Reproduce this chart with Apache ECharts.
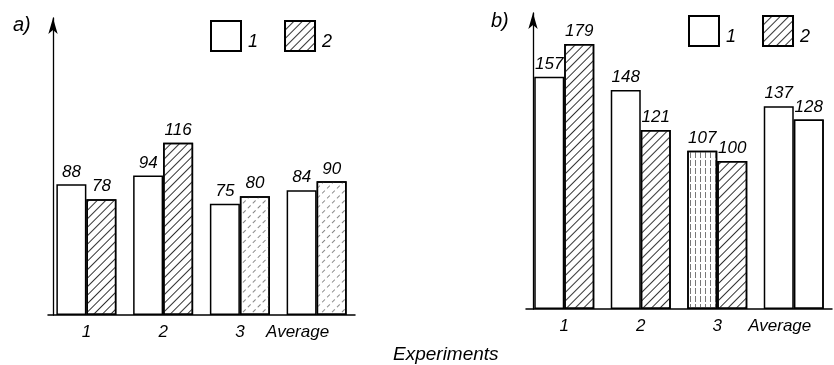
<!DOCTYPE html>
<html>
<head>
<meta charset="utf-8">
<script src="https://cdn.jsdelivr.net/npm/echarts@6/dist/echarts.min.js"></script>
<style>html,body{margin:0;padding:0;background:#fff;}#c{width:834px;height:365px;}</style>
</head>
<body>
<div id="c"></div>
<script>
// ---- data ----
const categories = ['1', '2', '3', 'Average'];
const seriesNames = ['1', '2'];
const panelA_series1 = [88, 94, 75, 84];
const panelA_series2 = [78, 116, 80, 90];
const panelB_series1 = [157, 148, 107, 137];
const panelB_series2 = [179, 121, 100, 128];
const panelLabels = ['a)', 'b)'];
const xAxisTitle = 'Experiments';

// ---- styles ----
const FONT = 'Liberation Sans';
const hatch = { symbol: 'rect', symbolSize: 1, color: '#333', dashArrayX: [1, 0], dashArrayY: [1, 5], rotation: -Math.PI / 4 };
const lightHatch = { symbol: 'rect', symbolSize: 1, color: '#888', dashArrayX: [[4, 3]], dashArrayY: [1, 6], rotation: -Math.PI / 4 };
const vertLines = { symbol: 'rect', symbolSize: 1, color: '#777', dashArrayX: [1, 4], dashArrayY: [6, 2] };
const none = { symbol: 'none' };

// decal per bar (style only, indexes align with categories)
const decalA1 = [null, null, null, null];
const decalA2 = [hatch, hatch, lightHatch, lightHatch];
const decalB1 = [null, null, vertLines, null];
const decalB2 = [hatch, hatch, hatch, none];

function items(values, decals) {
  return values.map((v, i) => decals[i] ? { value: v, itemStyle: { decal: decals[i] } } : v);
}

function barSeries(name, values, decals, axisIndex, seriesDecal) {
  return {
    type: 'bar', name: name,
    xAxisIndex: axisIndex, yAxisIndex: axisIndex,
    barWidth: 30, barGap: '0%',
    itemStyle: Object.assign({ color: '#fff', borderColor: '#000', borderWidth: 1.5 }, seriesDecal ? { decal: seriesDecal } : {}),
    label: { show: true, position: 'top', distance: 4, color: '#000', fontFamily: FONT, fontStyle: 'italic', fontSize: 17 },
    emphasis: { disabled: true },
    animation: false,
    data: items(values, decals)
  };
}

const yAxisCommon = {
  type: 'value', min: 0, max: 200,
  axisLine: { show: true, symbol: ['none', 'arrow'], symbolSize: [7, 16], lineStyle: { color: '#000', width: 1.3 } },
  axisTick: { show: false }, axisLabel: { show: false }, splitLine: { show: false }
};
function xAxisCommon(grid, avgPad) {
  return {
    type: 'category', gridIndex: grid, data: categories,
    axisLine: { lineStyle: { color: '#000', width: 1.5 } },
    axisTick: { show: false },
    axisLabel: {
      interval: 0,
      color: '#000', fontFamily: FONT, fontStyle: 'italic', fontSize: 17, margin: 9,
      formatter: v => v === 'Average' ? '{avg|' + v + '}' : v,
      rich: { avg: { padding: [0, avgPad, 0, 0], fontFamily: FONT, fontStyle: 'italic', fontSize: 17, color: '#000' } }
    }
  };
}

const legendText = {
  fontFamily: FONT, fontStyle: 'italic', fontSize: 18, color: '#000',
  rich: { t: { fontFamily: FONT, fontStyle: 'italic', fontSize: 18, color: '#000', padding: [12, 0, 0, 2] } }
};

const chart = echarts.init(document.getElementById('c'), null, { renderer: 'canvas' });
chart.setOption({
  backgroundColor: '#fff',
  animation: false,
  title: [
    { text: panelLabels[0], left: 8, top: 10, textStyle: { fontFamily: FONT, fontStyle: 'italic', fontWeight: 'normal', fontSize: 20, color: '#000' } },
    { text: panelLabels[1], left: 486, top: 6, textStyle: { fontFamily: FONT, fontStyle: 'italic', fontWeight: 'normal', fontSize: 20, color: '#000' } },
    { text: xAxisTitle, left: 388, top: 340, textStyle: { fontFamily: FONT, fontStyle: 'italic', fontWeight: 'normal', fontSize: 19, color: '#000' } }
  ],
  legend: [
    { data: seriesNames, left: 205, top: 15, itemWidth: 30, itemHeight: 30, itemGap: 26, icon: 'rect', selectedMode: false,
      formatter: n => '{t|' + n + '}', textStyle: legendText },
    { data: seriesNames, left: 683, top: 10, itemWidth: 30, itemHeight: 30, itemGap: 26, icon: 'rect', selectedMode: false,
      formatter: n => '{t|' + n + '}', textStyle: legendText }
  ],
  grid: [
    { left: 48, width: 307, top: 18, bottom: 50 },
    { left: 526, width: 306, top: 13, bottom: 56 }
  ],
  xAxis: [xAxisCommon(0, 38), xAxisCommon(1, 28)],
  yAxis: [
    Object.assign({ gridIndex: 0, offset: -5 }, yAxisCommon),
    Object.assign({ gridIndex: 1, offset: -7 }, yAxisCommon)
  ],
  series: [
    barSeries(seriesNames[0], panelA_series1, decalA1, 0, null),
    barSeries(seriesNames[1], panelA_series2, decalA2, 0, hatch),
    barSeries(seriesNames[0], panelB_series1, decalB1, 1, null),
    barSeries(seriesNames[1], panelB_series2, decalB2, 1, hatch)
  ]
});
</script>
</body>
</html>
